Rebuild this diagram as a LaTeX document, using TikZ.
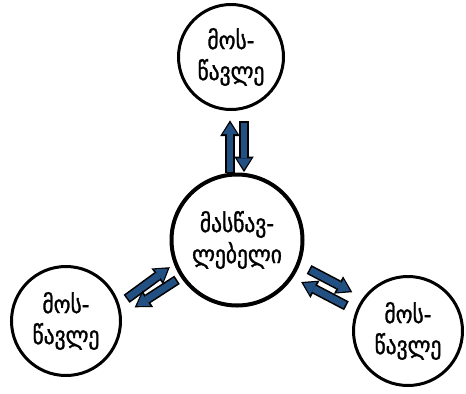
\documentclass[tikz,border=0pt]{standalone}
\usepackage{fontspec}
\newfontfamily\geo[FakeStretch=0.86,FakeBold=1.2]{DejaVu Sans}
\usetikzlibrary{calc}
\usetikzlibrary{arrows.meta}
\definecolor{arrowblue}{RGB}{35,80,130}
\tikzstyle{pupil}=[circle, draw=black, line width=1.5pt, minimum size=54.5pt, inner sep=0pt, align=center, font=\geo\fontsize{12.5}{15.5}\selectfont]
\tikzstyle{teacher}=[pupil, line width=2pt, minimum size=65.5pt]
\tikzstyle{barrow}=[draw=arrowblue, line width=3.4pt, -{Triangle[length=5.6pt,width=7.4pt,line width=0pt]},
  preaction={draw=black, line width=5pt, -{Triangle[length=7.8pt,width=9.8pt,line width=0pt]}, shorten >=-1.3pt, shorten <=-0.8pt}]

\begin{document}
\begin{tikzpicture}
        [x=0.5pt,y=0.5pt]
            \useasboundingbox (0,0) rectangle (466,393);
            \node [teacher] (m) at (237,153) {მასწავ-\\ლებელი} ;
            \node [pupil, minimum size=52.5pt] (t) at (231,336) {მოს-\\წავლე} ;
            \node [pupil] (l) at (66,72) {მოს-\\წავლე} ;
            \node [pupil] (r) at (408,62) {მოს-\\წავლე} ;
            \draw [barrow] ($(m.north)+(-7,1)$) -- ($(t.south)+(-1,-12)$) ;
            \draw [barrow] ($(t.south)+(13,-12)$) -- ($(m.north)+(7,3)$) ;
            \draw [barrow] ($(l.35)+(16,-9)$) -- ($(m.215)+(-14,10)$) ;
            \draw [barrow] ($(m.215)+(-6,-2)$) -- ($(l.35)+(25,-17)$) ;
            \draw [barrow] ($(m.330)+(15,3.5)$) -- ($(r.150)+(-9.5,12)$) ;
            \draw [barrow] ($(r.150)+(-14.5,-2)$) -- ($(m.330)+(8,-9.5)$) ;
        \end{tikzpicture}
\end{document}
